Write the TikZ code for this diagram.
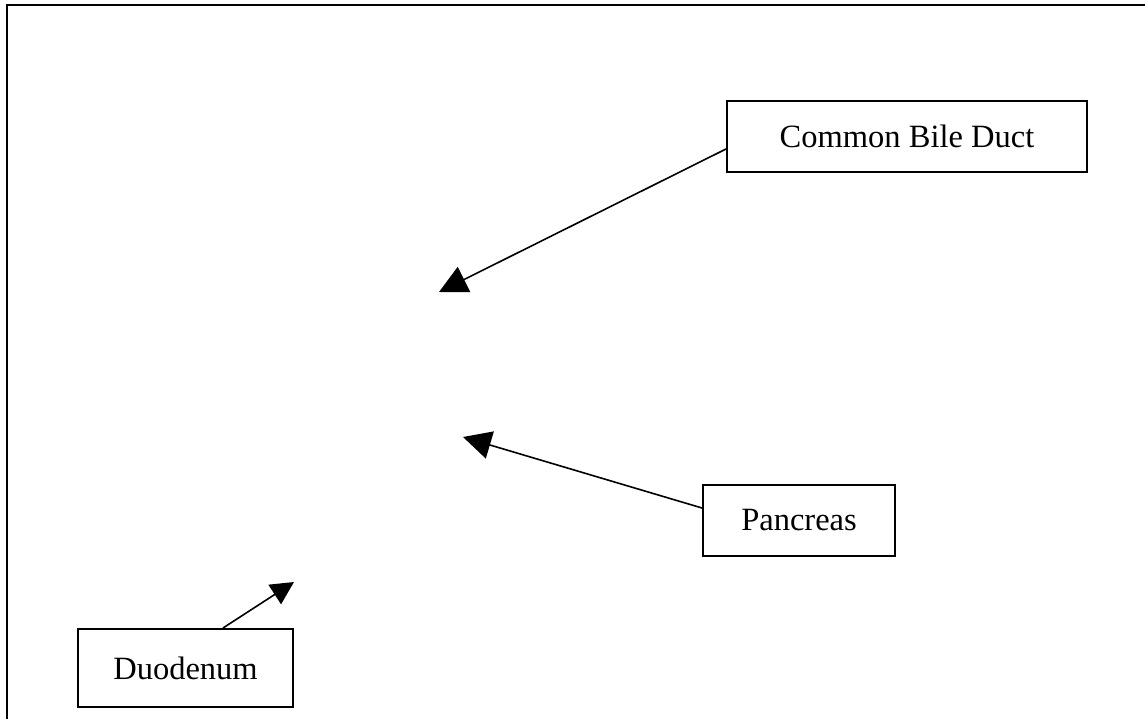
\documentclass[tikz,border=0pt]{standalone}
\usepackage{fontspec}
\setmainfont{Liberation Serif}
\usetikzlibrary{arrows.meta}
\begin{document}
\begin{tikzpicture}[x=1pt,y=-1pt,
  labelbox/.style={draw, line width=2pt, rectangle, inner sep=0pt,
    font=\fontsize{32.5}{39}\selectfont},
  pointer/.style={line width=1.6pt, -{Triangle[length=28pt,width=28pt]}},
  smallpointer/.style={line width=1.6pt, -{Triangle[length=23pt,width=23pt]}}]
\useasboundingbox (0,0) rectangle (1145,719);
\draw[line width=2pt] (7,719) -- (7,5) -- (1145,5);
\node[labelbox, minimum width=360pt, minimum height=71pt] (cbd) at (907,136.5) {Common Bile Duct};
\node[labelbox, minimum width=192pt, minimum height=71pt] (pan) at (799,520.5) {Pancreas};
\node[labelbox, minimum width=215pt, minimum height=78pt] (duo) at (185.5,668) {Duodenum};
\coordinate (tipA) at (439,292);
\coordinate (tipB) at (463,437);
\coordinate (tipC) at (294,582);
\draw[pointer] ([yshift=-12.5pt]cbd.west) -- (tipA);
\draw[pointer] ([yshift=12.5pt]pan.west) -- (tipB);
\draw[smallpointer] ([xshift=37.5pt]duo.north) -- (tipC);
\end{tikzpicture}
\end{document}
